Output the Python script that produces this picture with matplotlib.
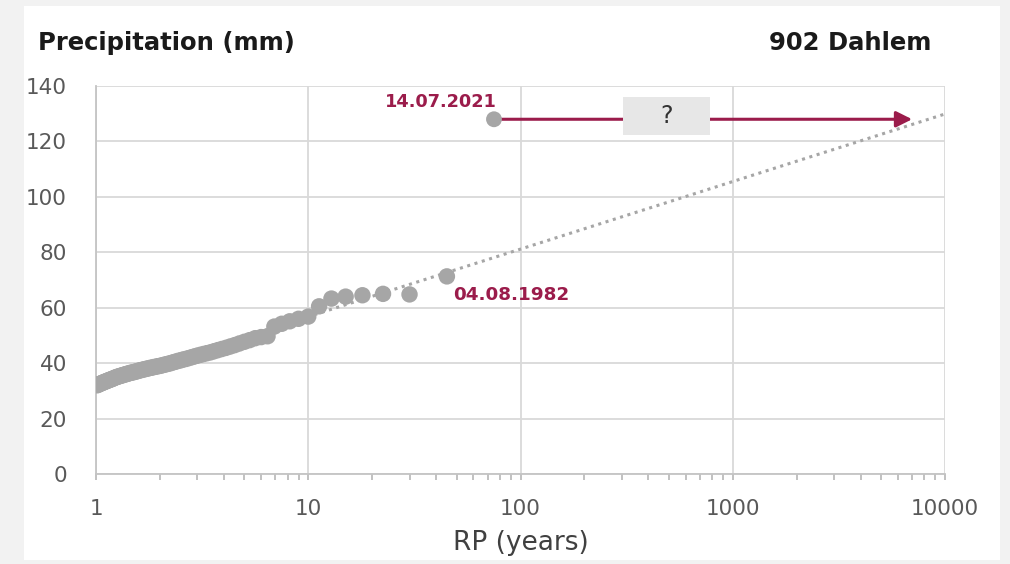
import numpy as np
import matplotlib.pyplot as plt
from matplotlib.patches import Rectangle

# annual maxima, return period (years) vs precipitation (mm)
rp = [1.011, 1.023, 1.034, 1.047, 1.059, 1.071, 1.084, 1.098, 1.111, 1.125,
      1.139, 1.154, 1.169, 1.184, 1.2, 1.216, 1.233, 1.25, 1.268, 1.286,
      1.304, 1.324, 1.343, 1.364, 1.385, 1.406, 1.429, 1.452, 1.475, 1.5,
      1.525, 1.552, 1.579, 1.607, 1.636, 1.667, 1.698, 1.731, 1.765, 1.8,
      1.837, 1.875, 1.915, 1.957, 2.0, 2.045, 2.093, 2.143, 2.195, 2.25,
      2.308, 2.368, 2.432, 2.5, 2.571, 2.647, 2.727, 2.813, 2.903, 3.0,
      3.103, 3.214, 3.333, 3.462, 3.6, 3.75, 3.913, 4.091, 4.286, 4.5,
      4.737, 5.0, 5.294, 5.625, 6.0, 6.429, 6.923, 7.5, 8.182, 9.0,
      10.0, 11.25, 12.86, 15.0, 18.0, 22.5, 30.0, 45.0]
precip = [32.0, 32.2, 32.4, 32.6, 32.7, 32.9, 33.1, 33.2, 33.4, 33.6,
          33.7, 33.9, 34.1, 34.2, 34.4, 34.6, 34.8, 35.0, 35.1, 35.3,
          35.4, 35.6, 35.7, 35.9, 36.0, 36.2, 36.3, 36.5, 36.6, 36.7,
          36.9, 37.0, 37.2, 37.4, 37.5, 37.7, 37.8, 38.0, 38.1, 38.3,
          38.4, 38.6, 38.7, 38.9, 39.0, 39.2, 39.4, 39.6, 39.8, 40.0,
          40.3, 40.5, 40.8, 41.0, 41.3, 41.5, 41.8, 42.1, 42.4, 42.7,
          43.0, 43.3, 43.6, 43.9, 44.3, 44.7, 45.1, 45.5, 46.0, 46.5,
          47.1, 47.7, 48.3, 49.0, 49.4, 49.7, 53.2, 54.2, 55.1, 56.0,
          56.8, 60.5, 63.3, 64.0, 64.5, 65.0, 64.8, 71.3]

event_rp = 75
event_mm = 128
arrow_end_rp = 7000

fit_rp = [1, 10000]
fit_mm = [32.4, 129.9]

grey = '#a6a6a6'
red = '#9b1c4b'

fig = plt.figure(figsize=(10.1, 5.64), dpi=100, facecolor='#f2f2f2')
fig.patches.append(Rectangle((24/1010, 4/564), 976/1010, 554/564,
                             transform=fig.transFigure, facecolor='white',
                             edgecolor='none', zorder=-10))
ax = fig.add_axes([96/1010, 1-474/564, 849/1010, 388/564])
ax.set_facecolor('white')

ax.plot(fit_rp, fit_mm, color=grey, lw=2.2, linestyle=(0, (1, 1.5)), zorder=2)
ax.scatter(rp, precip, s=140, color=grey, edgecolors='none', zorder=3)

ax.annotate('', xy=(arrow_end_rp, event_mm), xytext=(event_rp, event_mm),
            arrowprops=dict(arrowstyle='-|>', color=red, lw=2.2,
                            mutation_scale=24, shrinkA=0, shrinkB=0), zorder=2)
ax.add_patch(Rectangle((303, 122.3), 477, 13.7, facecolor='#e7e7e7',
                       edgecolor='none', zorder=4))
ax.text(486, 129, '?', ha='center', va='center', fontsize=17, color='#333333', zorder=5)
ax.scatter([event_rp], [event_mm], s=130, color=grey, edgecolors='none', zorder=6)

ax.text(77, 132.4, '14.07.2021', ha='right', va='baseline', fontsize=12.8,
        fontweight='bold', color=red)
ax.text(48, 62.8, '04.08.1982', ha='left', va='baseline', fontsize=13.2,
        fontweight='bold', color=red)

ax.set_xscale('log')
ax.set_xlim(1, 10000)
ax.set_ylim(0, 140)
ax.set_xticks([1, 10, 100, 1000, 10000])
ax.set_xticklabels(['1', '10', '100', '1000', '10000'])
ax.set_yticks(range(0, 141, 20))
ax.grid(True, which='major', color='#d9d9d9', lw=1.3)
ax.set_axisbelow(True)
for s in ['top', 'right']:
    ax.spines[s].set_visible(False)
for s in ['left', 'bottom']:
    ax.spines[s].set_color('#c4c4c4')
    ax.spines[s].set_linewidth(1.3)
ax.tick_params(axis='x', which='both', direction='out', length=4, width=1.1,
               color='#b0b0b0', labelsize=15.5, labelcolor='#595959', pad=14)
ax.tick_params(axis='y', length=0, labelsize=15.5, labelcolor='#595959', pad=21)
ax.set_xlabel('RP (years)', fontsize=19, color='#404040', labelpad=8)

fig.text(38/1010, 1-50/564, 'Precipitation (mm)', ha='left', va='baseline',
         fontsize=17.5, fontweight='bold', color='#1a1a1a')
fig.text(931/1010, 1-50/564, '902 Dahlem', ha='right', va='baseline',
         fontsize=17.5, fontweight='bold', color='#1a1a1a')

fig.savefig('out.png', dpi=100, facecolor=fig.get_facecolor())
